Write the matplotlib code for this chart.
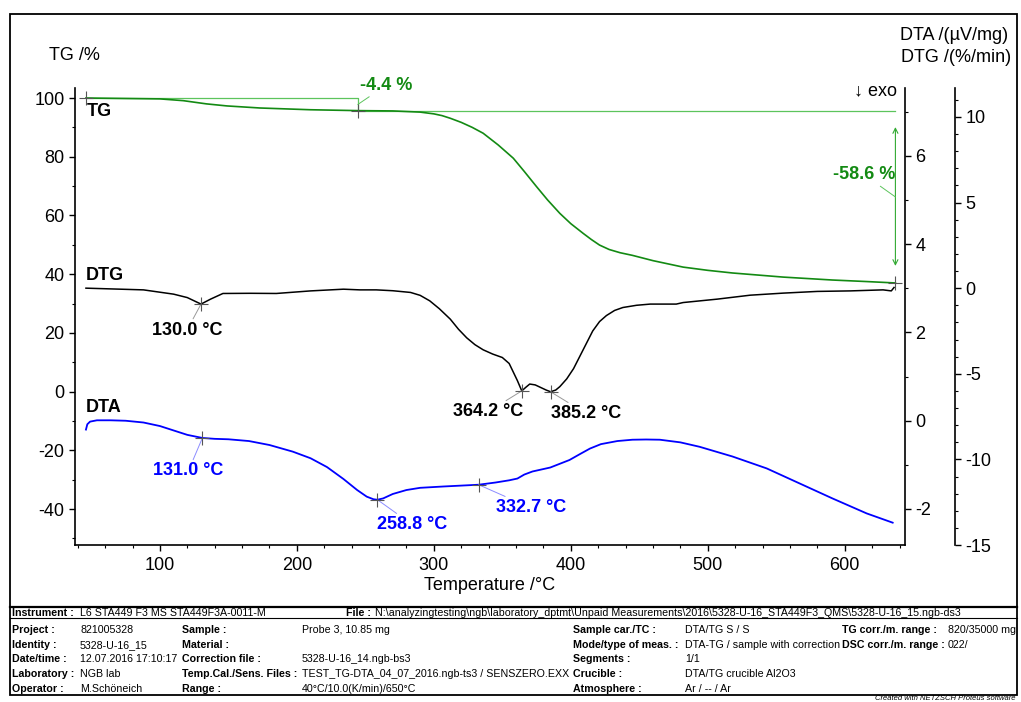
import matplotlib
matplotlib.use('Agg')
import matplotlib.pyplot as plt
from matplotlib.ticker import MultipleLocator
from matplotlib.patches import Rectangle
import numpy as np

plt.rcParams['font.family'] = ['Liberation Sans', 'DejaVu Sans']
plt.rcParams['axes.unicode_minus'] = False

W, H = 1021, 702

# TG /%
tg_temp = [46, 100, 117, 134, 149, 173, 210, 245, 270, 290, 300, 306, 312, 320, 328, 336, 347,
           358, 366, 375, 383, 392, 400, 409, 415, 421, 428, 436, 445, 460, 482, 500, 518, 555,
           591, 615, 637]
tg_val = [100.0, 99.7, 99.1, 98.0, 97.3, 96.6, 96.0, 95.7, 95.6, 95.2, 94.6, 94.0, 93.1, 91.7,
          90.0, 88.0, 84.0, 79.5, 75.0, 69.8, 65.3, 60.7, 57.2, 53.9, 51.8, 49.9, 48.4, 47.3,
          46.4, 44.6, 42.4, 41.3, 40.4, 39.0, 38.0, 37.5, 37.0]

# DTG /(%/min)
dtg_temp = [46, 88, 110, 120, 130, 137, 146, 166, 185, 210, 234, 246, 258, 270, 283, 290, 297,
            304, 312, 318, 324, 330, 336, 343, 350, 355, 358, 361, 364.2, 367, 370, 374, 378,
            382, 385.2, 389, 392, 397, 402, 409, 416, 421, 426, 432, 438, 448, 458, 477, 482,
            507, 531, 555, 580, 604, 628, 634, 636]
dtg_val = [0.0, -0.10, -0.35, -0.55, -0.93, -0.64, -0.31, -0.30, -0.31, -0.16, -0.06, -0.10,
           -0.10, -0.15, -0.25, -0.42, -0.74, -1.2, -1.81, -2.4, -2.9, -3.3, -3.6, -3.85, -4.05,
           -4.4, -4.9, -5.4, -6.0, -5.8, -5.6, -5.65, -5.8, -5.95, -6.05, -5.95, -5.75, -5.3,
           -4.7, -3.6, -2.5, -1.95, -1.6, -1.3, -1.13, -1.0, -0.93, -0.93, -0.84, -0.64, -0.41,
           -0.29, -0.19, -0.16, -0.10, -0.16, 0.04]

# DTA /(uV/mg)
dta_temp = [46, 47, 49, 54, 64, 75, 88, 100, 110, 120, 131, 140, 150, 165, 180, 197, 210, 222,
            234, 244, 251, 256, 258.8, 263, 270, 280, 290, 307, 332.7, 345, 355, 361, 366, 372,
            385, 399, 407, 414, 422, 434, 445, 455, 465, 480, 494, 518, 543, 567, 591, 616, 635]
dta_val = [-0.20, -0.08, -0.02, 0.01, 0.01, 0.0, -0.04, -0.12, -0.22, -0.32, -0.39, -0.41, -0.42,
           -0.46, -0.55, -0.70, -0.85, -1.05, -1.32, -1.57, -1.72, -1.78, -1.79, -1.76, -1.66,
           -1.57, -1.52, -1.49, -1.45, -1.40, -1.35, -1.31, -1.22, -1.15, -1.06, -0.89, -0.75,
           -0.63, -0.53, -0.46, -0.43, -0.425, -0.43, -0.49, -0.59, -0.81, -1.08, -1.42, -1.76,
           -2.1, -2.31]

tg_step_temps = [46, 244.5, 637]
tg_levels = [100.0, 95.6, 37.0]
tg_losses = ['-4.4 %', '-58.6 %']
dtg_peaks = [130.0, 364.2, 385.2]
dta_peaks = [131.0, 258.8, 332.7]

GREEN = '#138a13'
LGREEN = '#5cc45c'
BLUE = '#0000ff'


def fx(px):
    return px / W


def fy(py):
    return 1 - py / H


fig = plt.figure(figsize=(W / 100, H / 100), dpi=100)
ax = fig.add_axes([fx(75), fy(545), (905 - 75) / W, (545 - 88) / H])
ax2 = ax.twinx()
ax3 = ax.twinx()

ax.set_xlim(38, 644)
ax.set_ylim(-52.26, 103.41)
ax2.set_ylim(-2.816, 7.541)
ax3.set_ylim(-15, 11.69)

for a in (ax, ax2, ax3):
    for s in a.spines.values():
        s.set_visible(False)
        s.set_linewidth(1.2)
ax.spines['left'].set_visible(True)
ax.spines['bottom'].set_visible(True)
ax2.spines['right'].set_visible(True)
ax3.spines['right'].set_visible(True)
ax3.spines['right'].set_position(('axes', (955 - 75) / 830))

ax.xaxis.set_major_locator(MultipleLocator(100))
ax.xaxis.set_minor_locator(MultipleLocator(20))
ax.yaxis.set_major_locator(MultipleLocator(20))
ax.yaxis.set_minor_locator(MultipleLocator(10))
ax2.yaxis.set_major_locator(MultipleLocator(2))
ax2.yaxis.set_minor_locator(MultipleLocator(1))
ax3.yaxis.set_major_locator(MultipleLocator(5))
ax3.yaxis.set_minor_locator(MultipleLocator(1))
ax.set_yticks(np.arange(-40, 101, 20))
ax2.set_yticks(np.arange(-2, 7, 2))

for a in (ax, ax2, ax3):
    a.tick_params(which='major', length=4.5, width=1, labelsize=13, pad=3, direction='out')
    a.tick_params(which='minor', length=2.5, width=0.8, direction='out')
ax.tick_params(axis='x', pad=4)

ax.set_xlabel('Temperature /°C', fontsize=13, labelpad=2)

ax.plot(tg_temp, tg_val, color=GREEN, lw=1.2, zorder=3)
ax2.plot(dta_temp, dta_val, color=BLUE, lw=1.3, zorder=3)
ax3.plot(dtg_temp, dtg_val, color='black', lw=1.1, zorder=3)

# TG steps
ax.plot([tg_step_temps[0], tg_step_temps[1], tg_step_temps[1]],
        [tg_levels[0], tg_levels[0], tg_levels[1]], color=LGREEN, lw=0.9)
ax.plot([tg_step_temps[1], tg_step_temps[2]], [tg_levels[1], tg_levels[1]], color=LGREEN, lw=0.9)
ax.plot(tg_step_temps, tg_levels, ls='none', marker='+', ms=10, mew=0.8, color='#555555', zorder=4)
ax.annotate('', xy=(tg_step_temps[2], tg_levels[2] + 5.8), xytext=(tg_step_temps[2], tg_levels[1] - 5.5),
            arrowprops=dict(arrowstyle='<->', color='#33aa33', lw=0.8, shrinkA=0, shrinkB=0,
                            mutation_scale=9))
ax.annotate(tg_losses[0], xy=(tg_step_temps[1], (tg_levels[0] + tg_levels[1]) / 2),
            xytext=(28, 19), textcoords='offset pixels', ha='center', va='center',
            fontsize=13, fontweight='bold', color=GREEN, annotation_clip=False,
            arrowprops=dict(arrowstyle='-', color=LGREEN, lw=0.7, shrinkA=0, shrinkB=0))
ax.annotate(tg_losses[1], xy=(tg_step_temps[2], (tg_levels[1] + tg_levels[2]) / 2),
            xytext=(-31, 22), textcoords='offset pixels', ha='center', va='center',
            fontsize=13, fontweight='bold', color=GREEN,
            arrowprops=dict(arrowstyle='-', color=LGREEN, lw=0.7, shrinkA=0, shrinkB=0))

# DTG peaks
dtg_offsets = [(-14, -26), (-34, -21), (36, -22)]
for t, off in zip(dtg_peaks, dtg_offsets):
    v = np.interp(t, dtg_temp, dtg_val)
    ax3.plot(t, v, marker='+', ms=10, mew=0.8, color='#555555', zorder=4)
    ax3.annotate(f'{t:.1f} °C', xy=(t, v), xytext=off, textcoords='offset pixels',
                 ha='center', va='center', fontsize=13, fontweight='bold', color='black',
                 arrowprops=dict(arrowstyle='-', color='#999999', lw=0.7, shrinkA=0, shrinkB=0))

# DTA peaks
dta_offsets = [(-14, -33), (35, -25), (52, -23)]
for t, off in zip(dta_peaks, dta_offsets):
    v = np.interp(t, dta_temp, dta_val)
    ax2.plot(t, v, marker='+', ms=10, mew=0.8, color='#555555', zorder=4)
    ax2.annotate(f'{t:.1f} °C', xy=(t, v), xytext=off, textcoords='offset pixels',
                 ha='center', va='center', fontsize=13, fontweight='bold', color=BLUE,
                 arrowprops=dict(arrowstyle='-', color='#8c8cff', lw=0.7, shrinkA=0, shrinkB=0))

# curve names and axis titles
fig.text(fx(87), fy(112), 'TG', fontsize=13, fontweight='bold', va='center')
fig.text(fx(86), fy(276), 'DTG', fontsize=13, fontweight='bold', va='center')
fig.text(fx(86), fy(407), 'DTA', fontsize=13, fontweight='bold', va='center')
fig.text(fx(49), fy(56), 'TG /%', fontsize=13, va='center')
fig.text(fx(1008), fy(35), 'DTA /(µV/mg)', fontsize=13, va='center', ha='right')
fig.text(fx(1011), fy(57), 'DTG /(%/min)', fontsize=13, va='center', ha='right')
fig.text(fx(897), fy(91), '↓ exo', fontsize=13, va='center', ha='right')

# frame and table
fig.add_artist(Rectangle((fx(10), fy(695)), (1017 - 10) / W, (695 - 14) / H,
                         transform=fig.transFigure, fill=False, lw=1.3, color='black'))
fig.add_artist(plt.Line2D([fx(10), fx(1017)], [fy(606.5), fy(606.5)], lw=1.6, color='black'))
fig.add_artist(plt.Line2D([fx(10), fx(1017)], [fy(618), fy(618)], lw=0.8, color='black'))

row_y = [629, 644, 658, 673, 688]
col_labels = [
    ['Project :', 'Identity :', 'Date/time :', 'Laboratory :', 'Operator :'],
    ['Sample :', 'Material :', 'Correction file :', 'Temp.Cal./Sens. Files :', 'Range :'],
    ['Sample car./TC :', 'Mode/type of meas. :', 'Segments :', 'Crucible :', 'Atmosphere :'],
    ['TG corr./m. range :', 'DSC corr./m. range :'],
]
col_values = [
    ['821005328', '5328-U-16_15', '12.07.2016 17:10:17', 'NGB lab', 'M.Schöneich'],
    ['Probe 3, 10.85 mg', '', '5328-U-16_14.ngb-bs3',
     'TEST_TG-DTA_04_07_2016.ngb-ts3 / SENSZERO.EXX', '40°C/10.0(K/min)/650°C'],
    ['DTA/TG S / S', 'DTA-TG / sample with correction', '1/1', 'DTA/TG crucible Al2O3', 'Ar / -- / Ar'],
    ['820/35000 mg', '022/'],
]
label_x = [12, 182, 573, 842]
value_x = [80, 302, 685, 948]
TS = 7.7
fig.text(fx(12), fy(616), 'Instrument :', fontsize=TS, fontweight='bold', va='baseline')
fig.text(fx(80), fy(616), 'L6 STA449 F3 MS STA449F3A-0011-M', fontsize=TS, va='baseline')
fig.text(fx(346), fy(616), 'File :', fontsize=TS, fontweight='bold', va='baseline')
fig.text(fx(375), fy(616),
         'N:\\analyzingtesting\\ngb\\laboratory_dptmt\\Unpaid Measurements\\2016\\5328-U-16_STA449F3_QMS\\5328-U-16_15.ngb-ds3',
         fontsize=TS, va='baseline')
for labels, values, lx, vx in zip(col_labels, col_values, label_x, value_x):
    for lab, val, yy in zip(labels, values, row_y):
        fig.text(fx(lx), fy(yy + 4), lab, fontsize=TS, fontweight='bold', va='baseline')
        fig.text(fx(vx), fy(yy + 4), val, fontsize=TS, va='baseline')

fig.text(fx(1015), fy(701.5), 'Created with NETZSCH Proteus software', fontsize=5.5,
         style='italic', ha='right', va='bottom')

fig.savefig('out.png', dpi=100)
